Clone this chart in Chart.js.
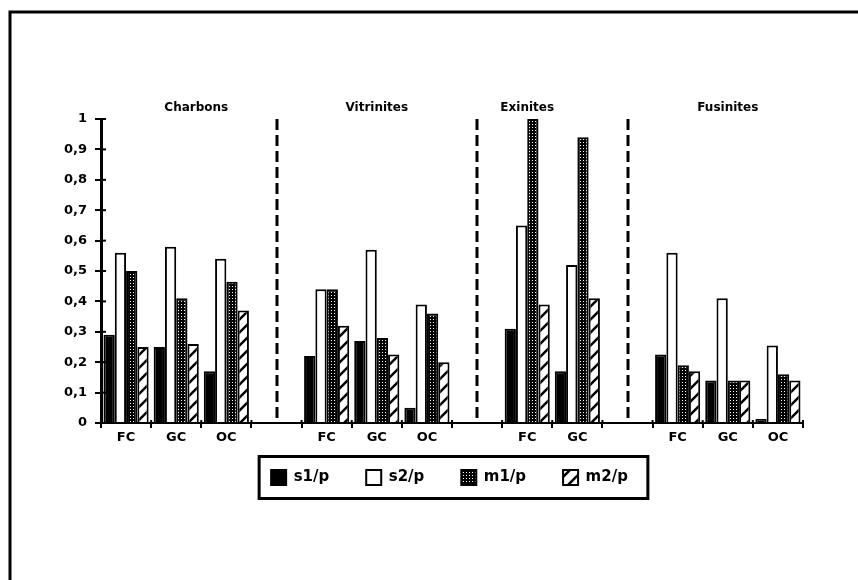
<!DOCTYPE html>
<html>
<head>
<meta charset="utf-8">
<script src="https://cdn.jsdelivr.net/npm/chart.js@4.4.1/dist/chart.umd.min.js"></script>
<style>
  html, body { margin: 0; padding: 0; background: #fff; }
  canvas { display: block; }
</style>
</head>
<body>
<canvas id="chart" width="858" height="580"></canvas>
<script>
// ---- data ----
const categories = ['FC', 'GC', 'OC', '', 'FC', 'GC', 'OC', '', 'FC', 'GC', '', 'FC', 'GC', 'OC'];
const s1p = [0.29, 0.25, 0.17, null, 0.22, 0.27, 0.05, null, 0.31, 0.17, null, 0.225, 0.14, 0.013];
const s2p = [0.56, 0.58, 0.54, null, 0.44, 0.57, 0.39, null, 0.65, 0.52, null, 0.56, 0.41, 0.255];
const m1p = [0.50, 0.41, 0.465, null, 0.44, 0.28, 0.36, null, 1.0, 0.94, null, 0.19, 0.14, 0.16];
const m2p = [0.25, 0.26, 0.37, null, 0.32, 0.225, 0.20, null, 0.39, 0.41, null, 0.17, 0.14, 0.14];
const seriesNames = ['s1/p', 's2/p', 'm1/p', 'm2/p'];

const groupTitles = ['Charbons', 'Vitrinites', 'Exinites', 'Fusinites'];
const groupAt = [1.4, 5, 8, 12];      // category index where each title sits
const separators = [3, 7, 10];        // empty categories holding the dashed lines

// ---- fill patterns ----
function dotPattern() {
  const c = document.createElement('canvas');
  c.width = 3; c.height = 3;
  const g = c.getContext('2d');
  g.fillStyle = '#000';
  g.fillRect(0, 0, 3, 3);
  g.fillStyle = '#fff';
  g.fillRect(1, 1, 1, 1);
  return g.createPattern(c, 'repeat');
}

function hatchPattern() {
  const n = 13;
  const c = document.createElement('canvas');
  c.width = n; c.height = n;
  const g = c.getContext('2d');
  g.fillStyle = '#fff';
  g.fillRect(0, 0, n, n);
  g.strokeStyle = '#000';
  g.lineWidth = 2.5;
  g.beginPath();
  g.moveTo(-2, n + 2); g.lineTo(n + 2, -2);
  g.moveTo(-2, 2); g.lineTo(2, -2);
  g.moveTo(n - 2, n + 2); g.lineTo(n + 2, n - 2);
  g.stroke();
  return g.createPattern(c, 'repeat');
}

const fills = ['#000', '#fff', dotPattern(), hatchPattern()];
const values = [s1p, s2p, m1p, m2p];

Chart.defaults.font.family = '"DejaVu Sans", Arial, sans-serif';
Chart.defaults.color = '#000';

// frame, dashed separators, group titles, legend box, inner tick marks
const decor = {
  id: 'decor',
  afterLayout(chart) {
    // legend sits under the plot area, a little higher than chart.js puts it
    const lg = chart.legend;
    lg.left += 48; lg.right += 48;
    lg.top -= 18; lg.bottom -= 18;
  },
  beforeDraw(chart) {
    const ctx = chart.ctx;
    ctx.save();
    ctx.strokeStyle = '#000';
    ctx.lineWidth = 3;
    ctx.beginPath();
    ctx.moveTo(10, 580);
    ctx.lineTo(10, 12);
    ctx.lineTo(858, 12);
    ctx.stroke();
    ctx.restore();
  },
  afterDraw(chart) {
    const ctx = chart.ctx;
    const x = chart.scales.x, y = chart.scales.y;
    ctx.save();
    ctx.strokeStyle = '#000';

    // dashed separators
    ctx.lineWidth = 3;
    ctx.setLineDash([11, 5]);
    separators.forEach(i => {
      const px = Math.round(x.getPixelForValue(i));
      ctx.beginPath();
      ctx.moveTo(px, y.getPixelForValue(1));
      ctx.lineTo(px, y.getPixelForValue(0));
      ctx.stroke();
    });
    ctx.setLineDash([]);

    // inner halves of the tick marks
    ctx.lineWidth = 2;
    y.ticks.forEach(t => {
      const py = y.getPixelForValue(t.value);
      ctx.beginPath();
      ctx.moveTo(x.left, py);
      ctx.lineTo(x.left + 5, py);
      ctx.stroke();
    });
    for (let i = 0; i <= categories.length; i++) {
      const px = x.getPixelForValue(i - 0.5);
      ctx.beginPath();
      ctx.moveTo(px, y.bottom);
      ctx.lineTo(px, y.bottom - 3);
      ctx.stroke();
    }

    // group titles
    ctx.fillStyle = '#000';
    ctx.font = 'bold 12px "DejaVu Sans", Arial, sans-serif';
    ctx.textAlign = 'center';
    ctx.textBaseline = 'middle';
    groupTitles.forEach((t, i) => {
      ctx.fillText(t, x.getPixelForValue(groupAt[i]), 108);
    });

    // box round the legend
    const hb = chart.legend.legendHitBoxes;
    if (hb && hb.length) {
      const first = hb[0], last = hb[hb.length - 1];
      const cy = first.top + first.height / 2;
      ctx.lineWidth = 3;
      ctx.strokeRect(first.left - 12, cy - 21, last.left + last.width + 20 - (first.left - 12), 42);
    }
    ctx.restore();
  }
};

new Chart(document.getElementById('chart'), {
  type: 'bar',
  data: {
    labels: categories,
    datasets: seriesNames.map((name, k) => ({
      label: name,
      data: values[k],
      backgroundColor: fills[k],
      borderColor: '#000',
      borderWidth: 2,
      barPercentage: 1.0,
      categoryPercentage: 0.9
    }))
  },
  options: {
    responsive: false,
    animation: false,
    layout: { padding: { top: 119, right: 55, left: 0, bottom: 67 } },
    plugins: {
      title: { display: false },
      tooltip: { enabled: false },
      legend: {
        position: 'bottom',
        labels: {
          boxWidth: 15,
          boxHeight: 15,
          padding: 37,
          font: { size: 15, weight: 'bold' },
          color: '#000'
        }
      }
    },
    scales: {
      x: {
        grid: { offset: true, drawOnChartArea: false, tickLength: 5, color: '#000', lineWidth: 2 },
        border: { color: '#000', width: 2 },
        ticks: { font: { size: 13, weight: 'bold' }, padding: 2, maxRotation: 0, autoSkip: false },
        afterFit(s) { s.height = 28; }
      },
      y: {
        min: 0,
        max: 1,
        grid: { drawOnChartArea: false, tickLength: 6, color: '#000', lineWidth: 2 },
        border: { color: '#000', width: 3 },
        ticks: {
          stepSize: 0.1,
          padding: 8,
          font: { size: 13, weight: 'bold' },
          callback: v => (v === 0 || v === 1) ? String(v) : v.toFixed(1).replace('.', ',')
        },
        afterFit(s) { s.width = 101; }
      }
    }
  },
  plugins: [decor]
});
</script>
</body>
</html>
